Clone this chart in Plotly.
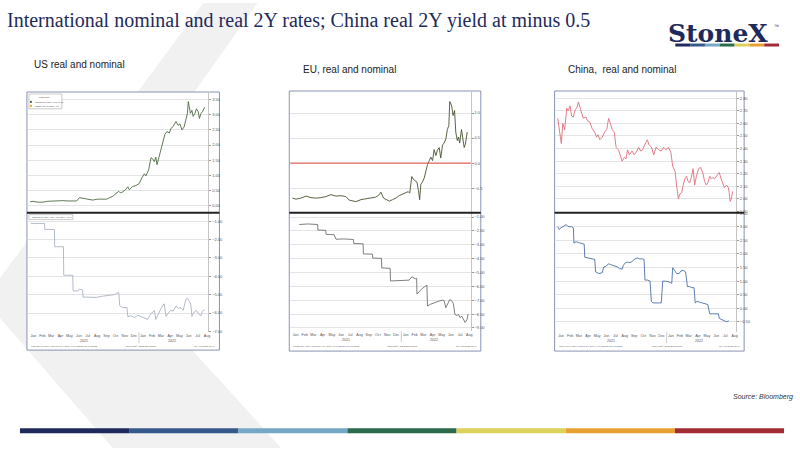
import plotly.graph_objects as go

# ---------------- data ----------------
US_NOM_DATES = ["2021-01-04","2021-01-14","2021-01-30","2021-02-16","2021-03-04","2021-03-21","2021-04-06","2021-04-23",
    "2021-05-10","2021-05-26","2021-06-08","2021-06-17","2021-06-28","2021-07-15","2021-07-31","2021-08-17","2021-09-03",
    "2021-09-16","2021-09-25","2021-10-06","2021-10-17","2021-10-26","2021-10-31","2021-11-08","2021-11-17","2021-11-25",
    "2021-11-30","2021-12-11","2021-12-22","2022-01-02","2022-01-11","2022-01-19","2022-01-24","2022-02-02","2022-02-10",
    "2022-02-15","2022-02-21","2022-02-26","2022-03-02","2022-03-07","2022-03-15","2022-03-21","2022-03-28","2022-04-04",
    "2022-04-12","2022-04-17","2022-04-25","2022-05-04","2022-05-11","2022-05-17","2022-05-24","2022-05-31","2022-06-06",
    "2022-06-11","2022-06-14","2022-06-17","2022-06-21","2022-06-26","2022-06-30","2022-07-06","2022-07-11","2022-07-17",
    "2022-07-21","2022-07-26","2022-07-31","2022-08-07"]
US_NOM = [0.12,0.14,0.11,0.11,0.14,0.15,0.16,0.16,0.15,0.14,0.15,0.26,0.24,0.21,0.18,0.21,0.20,0.21,0.26,0.30,0.40,0.47,
    0.42,0.45,0.52,0.62,0.52,0.63,0.66,0.73,0.92,1.05,0.98,1.18,1.58,1.55,1.45,1.60,1.35,1.55,1.90,2.10,2.35,2.45,2.40,
    2.55,2.62,2.78,2.65,2.70,2.50,2.60,2.80,3.05,3.44,3.20,3.05,3.15,2.95,3.05,3.20,3.10,2.88,3.05,3.10,3.25]

US_REAL_DATES = ["2021-01-06","2021-02-05","2021-02-21","2021-02-22","2021-03-21","2021-03-26","2021-03-27","2021-04-25",
    "2021-04-26","2021-05-26","2021-05-27","2021-06-12","2021-06-17","2021-06-28","2021-06-29","2021-07-20","2021-08-12",
    "2021-09-03","2021-09-25","2021-10-11","2021-10-26","2021-10-29","2021-11-08","2021-11-17","2021-11-22","2021-11-25",
    "2021-12-06","2021-12-17","2021-12-28","2022-01-08","2022-01-19","2022-01-30","2022-02-07","2022-02-15","2022-02-21",
    "2022-02-26","2022-03-07","2022-03-17","2022-03-26","2022-04-01","2022-04-08","2022-04-17","2022-04-25","2022-05-04",
    "2022-05-13","2022-05-20","2022-05-28","2022-06-06","2022-06-11","2022-06-17","2022-06-22","2022-06-26","2022-07-03",
    "2022-07-11","2022-07-18","2022-07-26","2022-07-31","2022-08-07"]
US_REAL = [-1.12,-1.10,-1.12,-1.44,-1.44,-1.45,-2.39,-2.39,-3.94,-3.94,-4.79,-4.80,-4.70,-4.75,-5.13,-5.15,-5.15,-5.08,
    -5.05,-5.00,-4.88,-5.60,-5.70,-5.68,-5.70,-6.20,-6.15,-6.25,-6.12,-6.20,-6.28,-6.35,-6.10,-5.95,-5.86,-6.35,-6.00,
    -5.70,-5.50,-6.18,-6.00,-5.85,-5.90,-5.62,-5.75,-5.70,-5.85,-5.25,-5.20,-5.40,-5.50,-6.18,-5.95,-5.85,-6.05,-6.15,
    -5.90,-5.82]

EU_NOM_DATES = ["2021-01-04","2021-01-16","2021-02-01","2021-02-18","2021-03-07","2021-03-23","2021-04-09","2021-04-25",
    "2021-05-12","2021-05-29","2021-06-14","2021-07-01","2021-07-12","2021-07-23","2021-08-03","2021-08-20","2021-09-05",
    "2021-09-22","2021-10-08","2021-10-20","2021-10-25","2021-11-03","2021-11-11","2021-11-22","2021-12-03","2021-12-14",
    "2021-12-25","2022-01-05","2022-01-16","2022-01-24","2022-01-29","2022-02-05","2022-02-11","2022-02-16","2022-02-22",
    "2022-02-27","2022-03-03","2022-03-07","2022-03-12","2022-03-18","2022-03-24","2022-03-29","2022-04-04","2022-04-09",
    "2022-04-15","2022-04-20","2022-04-26","2022-05-01","2022-05-07","2022-05-12","2022-05-18","2022-05-23","2022-05-29",
    "2022-06-03","2022-06-08","2022-06-11","2022-06-15","2022-06-18","2022-06-22","2022-06-27","2022-07-01","2022-07-06",
    "2022-07-10","2022-07-14","2022-07-20","2022-07-24","2022-07-29","2022-08-02","2022-08-08"]
EU_NOM = [-0.70,-0.72,-0.70,-0.66,-0.69,-0.70,-0.69,-0.67,-0.63,-0.66,-0.65,-0.67,-0.74,-0.76,-0.77,-0.73,-0.71,-0.70,
    -0.68,-0.63,-0.58,-0.70,-0.72,-0.76,-0.73,-0.70,-0.65,-0.62,-0.60,-0.57,-0.60,-0.27,-0.33,-0.35,-0.38,-0.55,-0.73,
    -0.42,-0.38,-0.30,-0.15,-0.03,0.05,0.12,0.05,0.27,0.15,0.26,0.31,0.10,0.36,0.40,0.48,0.67,0.75,1.23,1.18,1.12,0.95,
    1.05,0.62,0.45,0.52,0.40,0.67,0.52,0.31,0.38,0.62]

EU_REAL_DATES = ["2021-01-27","2021-02-24","2021-03-29","2021-03-30","2021-04-25","2021-04-26","2021-05-23","2021-05-29",
    "2021-06-25","2021-07-26","2021-07-27","2021-08-27","2021-08-28","2021-09-27","2021-09-28","2021-10-27","2021-10-28",
    "2021-11-25","2021-11-26","2021-12-19","2022-01-11","2022-01-27","2022-02-05","2022-02-16","2022-02-21","2022-02-22",
    "2022-03-01","2022-03-09","2022-03-27","2022-03-29","2022-04-07","2022-04-17","2022-04-26","2022-05-07","2022-05-18",
    "2022-05-23","2022-05-29","2022-06-03","2022-06-11","2022-06-18","2022-06-23","2022-06-28","2022-07-04","2022-07-10",
    "2022-07-15","2022-07-21","2022-07-27","2022-08-01","2022-08-07","2022-08-11"]
EU_REAL = [-1.54,-1.50,-1.54,-1.94,-1.96,-2.25,-2.28,-2.60,-2.58,-2.62,-2.91,-2.93,-3.66,-3.68,-3.96,-3.98,-4.67,-4.70,
    -5.61,-5.58,-5.60,-5.55,-5.31,-5.45,-5.42,-6.55,-6.40,-6.20,-5.90,-7.42,-7.30,-7.20,-7.14,-7.05,-7.00,-7.02,-7.54,
    -7.30,-6.95,-7.05,-7.25,-8.01,-8.10,-8.02,-8.25,-8.15,-8.45,-8.60,-8.40,-8.00]

CN_NOM_DATES = ["2021-01-04","2021-01-10","2021-01-16","2021-01-21","2021-01-27","2021-02-03","2021-02-08","2021-02-14",
    "2021-02-19","2021-02-25","2021-03-03","2021-03-08","2021-03-14","2021-03-21","2021-03-30","2021-04-08","2021-04-13",
    "2021-04-21","2021-04-28","2021-05-07","2021-05-13","2021-05-18","2021-05-24","2021-06-01","2021-06-09","2021-06-16",
    "2021-06-22","2021-06-28","2021-07-04","2021-07-11","2021-07-17","2021-07-25","2021-07-31","2021-08-06","2021-08-13",
    "2021-08-19","2021-08-24","2021-08-30","2021-09-08","2021-09-15","2021-09-21","2021-09-30","2021-10-07","2021-10-13",
    "2021-10-20","2021-10-29","2021-11-03","2021-11-12","2021-11-19","2021-11-27","2021-12-06","2021-12-14","2021-12-22",
    "2021-12-30","2022-01-07","2022-01-15","2022-01-21","2022-01-29","2022-02-03","2022-02-09","2022-02-14","2022-02-20",
    "2022-02-25","2022-03-03","2022-03-08","2022-03-13","2022-03-19","2022-03-24","2022-03-30","2022-04-04","2022-04-10",
    "2022-04-17","2022-04-24","2022-05-02","2022-05-07","2022-05-13","2022-05-18","2022-05-24","2022-05-29","2022-06-04",
    "2022-06-09","2022-06-15","2022-06-20","2022-06-25","2022-07-01","2022-07-06","2022-07-12","2022-07-19","2022-07-25",
    "2022-07-28","2022-07-31","2022-08-04","2022-08-08"]
CN_NOM = [2.64,2.55,2.44,2.60,2.55,2.72,2.70,2.74,2.66,2.65,2.71,2.72,2.77,2.71,2.64,2.65,2.62,2.61,2.56,2.53,2.49,2.51,
    2.47,2.49,2.53,2.55,2.64,2.60,2.55,2.53,2.41,2.39,2.35,2.30,2.33,2.32,2.39,2.35,2.38,2.35,2.37,2.41,2.38,2.39,2.43,
    2.47,2.43,2.41,2.35,2.41,2.39,2.38,2.41,2.39,2.41,2.37,2.26,2.22,2.11,2.00,2.04,2.05,2.11,2.16,2.18,2.14,2.13,2.17,
    2.24,2.11,2.18,2.24,2.25,2.20,2.14,2.11,2.13,2.18,2.16,2.17,2.16,2.18,2.20,2.21,2.16,2.13,2.09,2.11,2.09,2.05,1.98,
    2.00,2.06]

CN_REAL_DATES = ["2021-01-04","2021-01-09","2021-01-15","2021-01-21","2021-01-27","2021-02-01","2021-02-06","2021-02-11",
    "2021-02-19","2021-02-25","2021-02-27","2021-03-06","2021-03-14","2021-03-24","2021-04-02","2021-04-04","2021-04-15",
    "2021-04-26","2021-05-07","2021-05-10","2021-05-21","2021-06-01","2021-06-06","2021-06-14","2021-06-22","2021-06-28",
    "2021-07-06","2021-07-13","2021-07-22","2021-07-28","2021-08-06","2021-08-10","2021-08-17","2021-08-24","2021-09-01",
    "2021-09-09","2021-09-18","2021-09-26","2021-10-03","2021-10-13","2021-10-18","2021-10-21","2021-10-29","2021-11-07",
    "2021-11-11","2021-11-16","2021-11-25","2021-12-06","2021-12-14","2021-12-19","2021-12-28","2022-01-07","2022-01-18",
    "2022-01-21","2022-01-27","2022-02-03","2022-02-11","2022-02-17","2022-02-25","2022-03-05","2022-03-11","2022-03-19",
    "2022-03-26","2022-04-02","2022-04-06","2022-04-12","2022-04-20","2022-04-28","2022-05-07","2022-05-18","2022-05-24",
    "2022-06-04","2022-06-15","2022-06-22","2022-06-25","2022-07-03","2022-07-12","2022-07-19","2022-07-27"]
CN_REAL = [3.00,2.90,2.96,3.00,3.02,3.08,3.02,3.00,3.00,2.96,2.40,2.45,2.42,2.40,2.36,1.88,1.85,1.82,1.80,1.34,1.28,1.31,
    1.52,1.55,1.64,1.61,1.58,1.58,1.52,1.46,1.44,1.58,1.68,1.70,1.68,1.73,1.82,1.85,1.82,1.82,1.80,1.04,1.04,1.00,0.26,
    0.20,0.19,0.20,0.20,1.00,1.00,0.98,0.92,1.49,1.40,1.28,1.28,1.37,1.40,1.34,0.80,0.80,0.76,0.76,0.20,0.26,0.23,0.20,
    0.16,0.14,-0.20,-0.20,-0.22,-0.20,-0.37,-0.40,-0.46,-0.49,-0.46]

MONTH_TICKS = ["2021-01-15","2021-02-14","2021-03-15","2021-04-15","2021-05-15","2021-06-15","2021-07-15","2021-08-15",
    "2021-09-15","2021-10-15","2021-11-15","2021-12-15","2022-01-15","2022-02-14","2022-03-15","2022-04-15","2022-05-15",
    "2022-06-15","2022-07-15","2022-08-15"]
MONTH_LABELS = ["Jan","Feb","Mar","Apr","May","Jun","Jul","Aug","Sep","Oct","Nov","Dec",
                "Jan","Feb","Mar","Apr","May","Jun","Jul","Aug"]
YEAR_POS = ["2021-07-01", "2022-04-20"]
YEAR_LABELS = ["2021", "2022"]
X_RANGE = ["2020-12-28", "2022-08-20"]

TITLE = "International nominal and real 2Y rates; China real 2Y yield at minus 0.5"
SUBTITLES = ["US real and nominal", "EU, real and nominal", "China,  real and nominal"]
BAR_COLORS = ["#1f2a5c", "#34598a", "#75a7c7", "#2b6a4b", "#dcd15a", "#e8a130", "#a12a33"]

# ---------------- layout helpers ----------------
W, H = 800, 450
def fx(x): return x / W
def fy(y): return 1 - y / H

panels = [
    dict(frame=(27, 90, 220, 351), plot=(28, 209), top=(90.5, 211.5), bot=(212.5, 333),
         series=[(US_NOM_DATES, US_NOM, "#4e6a44"), (US_REAL_DATES, US_REAL, "#aab3c2")],
         yr=[(-0.22, 3.74, 0.5, ".2f"), (-7.05, -0.56, 1.0, ".2f")],
         footer=("USGG2YR Index (US Govt 2Y) Daily 04JAN2021-03AUG2022",
                 "Copyright\u00a9 2022 Bloomberg", "03-Aug-2022 13:40")),
    dict(frame=(290, 89, 482, 352), plot=(291, 472), top=(89.5, 211.5), bot=(212.5, 332),
         series=[(EU_NOM_DATES, EU_NOM, "#46542f"), (EU_REAL_DATES, EU_REAL, "#707070")],
         yr=[(-0.98, 1.43, 0.5, ".1f"), (-9.24, -0.72, 1.0, ".2f")],
         footer=("GTDEM2Y Govt (Germany 2Y) Daily 04JAN2021-03AUG2022",
                 "Copyright\u00a9 2022 Bloomberg", "03-Aug-2022 13:41")),
    dict(frame=(556, 89, 746, 352), plot=(557, 738), top=(89.5, 211.5), bot=(212.5, 333),
         series=[(CN_NOM_DATES, CN_NOM, "#df6f7d"), (CN_REAL_DATES, CN_REAL, "#4a70a6")],
         yr=[(1.895, 2.853, 0.1, ".2f"), (-0.88, 3.5, 0.5, ".2f")],
         footer=("GCNY2YR Index (China 2Y) Daily 04JAN2021-03AUG2022",
                 "Copyright\u00a9 2022 Bloomberg", "03-Aug-2022 13:41")),
]

fig = go.Figure()
shapes, annotations = [], []

def note(x, y, text, size, color="#222", family="Liberation Sans", anchor="left", **kw):
    annotations.append(dict(x=fx(x), y=fy(y), xref="paper", yref="paper", text=text, xanchor=anchor,
                            yanchor="middle", showarrow=False, font=dict(size=size, color=color, family=family), **kw))

# background chevron
shapes.append(dict(type="path", xref="paper", yref="paper", layer="below",
    path=f"M {fx(204)} {fy(0)} L {fx(258)} {fy(0)} L {fx(91)} {fy(238)} L {fx(282)} {fy(450)} "
         f"L {fx(113)} {fy(450)} L {fx(-16)} {fy(300)} Z",
    fillcolor="#f1f1f1", line=dict(width=0)))

layout_axes = {}
ax = 0
for p in panels:
    x0f, y0f, x1f, y1f = p["frame"]
    shapes.append(dict(type="rect", xref="paper", yref="paper", layer="below",
                       x0=fx(x0f), x1=fx(x1f), y0=fy(y1f), y1=fy(y0f),
                       fillcolor="white", line=dict(color="#8a93b3", width=1)))
    for k, (rng, (dates, vals, col)) in enumerate(zip([p["top"], p["bot"]], p["series"])):
        ax += 1
        xs = "" if ax == 1 else str(ax)
        lo, hi, dt, fmt = p["yr"][k]
        fig.add_trace(go.Scatter(x=dates, y=vals, mode="lines", xaxis="x" + xs, yaxis="y" + xs,
                                 line=dict(color=col, width=0.9), showlegend=False, hoverinfo="skip"))
        xa = dict(domain=[fx(p["plot"][0]), fx(p["plot"][1])], anchor="y" + xs, type="date",
                  range=X_RANGE, showgrid=False, zeroline=False, showline=False,
                  tickvals=MONTH_TICKS, ticktext=MONTH_LABELS, ticks="",
                  tickfont=dict(size=3.6, color="#555", family="Liberation Sans"),
                  showticklabels=(k == 1), tickangle=0, fixedrange=True)
        ya = dict(domain=[fy(rng[1]), fy(rng[0])], anchor="x" + xs, side="right",
                  range=[lo, hi], dtick=dt, tick0=0, tickformat=fmt,
                  showgrid=True, gridcolor="#e4e4e4", gridwidth=0.7, zeroline=False,
                  showline=True, linecolor="#c4c4c4", linewidth=0.7,
                  ticks="outside", ticklen=2, tickcolor="#999", tickwidth=0.6,
                  tickfont=dict(size=4, color="#555", family="Liberation Sans"), fixedrange=True)
        layout_axes["xaxis" + xs] = xa
        layout_axes["yaxis" + xs] = ya
        if k == 1:
            for pos, lab in zip(YEAR_POS, YEAR_LABELS):
                annotations.append(dict(x=pos, xref="x" + xs, y=fy(rng[1] + 8.5), yref="paper",
                                        text=lab, showarrow=False, yanchor="middle",
                                        font=dict(size=3.6, color="#555", family="Liberation Sans")))
            shapes.append(dict(type="line", xref="x" + xs, yref="paper", x0="2022-01-01", x1="2022-01-01",
                               y0=fy(rng[1]), y1=fy(rng[1] + 11), line=dict(color="#aaa", width=0.6)))
    # separator between panels
    shapes.append(dict(type="line", xref="paper", yref="paper", x0=fx(x0f), x1=fx(x1f),
                       y0=fy(212), y1=fy(212), line=dict(color="#222", width=2)))
    # footer
    fl, fc, fr = p["footer"]
    note(x0f + 2, 347.5, fl, 2.4, "#666")
    note((x0f + x1f) / 2 + 18, 347.5, fc, 2.4, "#666", anchor="center")
    note(x1f - 2, 347.5, fr, 2.4, "#666", anchor="right")

# EU zero line (red)
shapes.append(dict(type="line", xref="x3 domain", yref="y3", x0=0, x1=1, y0=0, y1=0,
                   line=dict(color="#e8433b", width=1)))

# US legend boxes
shapes.append(dict(type="rect", xref="paper", yref="paper", x0=fx(29), x1=fx(62), y0=fy(107), y1=fy(92),
                   fillcolor="white", line=dict(color="#999", width=0.5)))
shapes.append(dict(type="rect", xref="paper", yref="paper", x0=fx(30), x1=fx(32), y0=fy(101), y1=fy(99),
                   fillcolor="#4e6a44", line=dict(width=0)))
shapes.append(dict(type="rect", xref="paper", yref="paper", x0=fx(30), x1=fx(32), y0=fy(105), y1=fy(103),
                   fillcolor="#f0a020", line=dict(width=0)))
note(45, 95.5, "Last Price", 2.4, "#444", anchor="center")
note(33, 100, "USGG2YR Index  3.07 +0.00", 2.2, "#444")
note(33, 104, "USCPIYOY Comdty  n.a.", 2.2, "#444")
shapes.append(dict(type="rect", xref="paper", yref="paper", x0=fx(29), x1=fx(73), y0=fy(219), y1=fy(214),
                   fillcolor="white", line=dict(color="#999", width=0.5)))
note(30, 216.5, "USGG2YR Index - CPI YOY Index  -5.97", 2.2, "#444")

# title, subtitles, logo, source
note(5, 18, TITLE, 20, "#1f2a5c", "Liberation Serif")
for txt, xx, yy in zip(SUBTITLES, [32, 302, 567], [62, 67.5, 67.5]):
    note(xx, yy, txt, 10, "#222")
note(668, 31, "<b>StoneX</b>", 25, "#1f2a5c", "DejaVu Serif")
note(774, 23, "\u2122", 5, "#1f2a5c")
note(797, 398, "<i>Source: Bloomberg</i>", 7, "#333", anchor="right")

# colour bars (logo and bottom)
def add_bar(xa, xb, ya, yb):
    n = len(BAR_COLORS)
    w = (xb - xa) / n
    for i, c in enumerate(BAR_COLORS):
        shapes.append(dict(type="rect", xref="paper", yref="paper", x0=fx(xa + i * w), x1=fx(xa + (i + 1) * w),
                           y0=fy(yb), y1=fy(ya), fillcolor=c, line=dict(width=0)))
add_bar(677, 781, 41, 44)
add_bar(20, 786, 430, 435)

fig.update_layout(width=W, height=H, margin=dict(l=0, r=0, t=0, b=0),
                  paper_bgcolor="white", plot_bgcolor="rgba(0,0,0,0)",
                  shapes=shapes, annotations=annotations, showlegend=False, **layout_axes)

fig.write_html("out.html", config={"displayModeBar": False},
               post_script="document.body.style.margin='0';document.body.style.overflow='hidden';")
